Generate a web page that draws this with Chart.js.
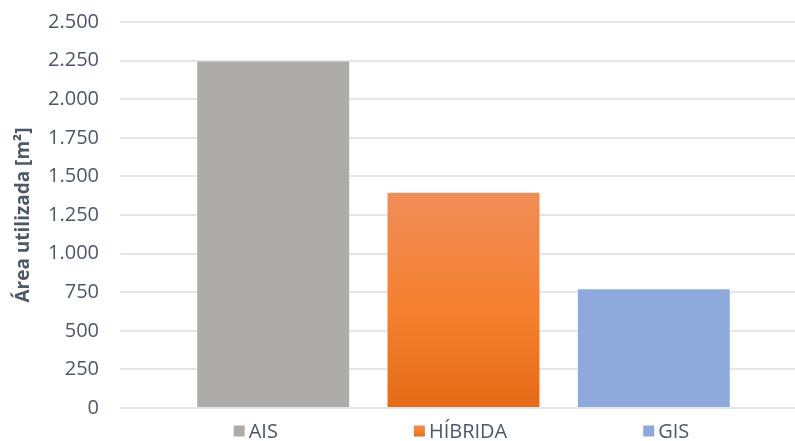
<!DOCTYPE html>
<html>
<head>
<meta charset="utf-8">
<script src="https://cdn.jsdelivr.net/npm/chart.js@4.4.1/dist/chart.umd.min.js"></script>
<style>
  html, body { margin: 0; padding: 0; background: #fff; overflow: hidden; }
  #wrap { width: 795px; height: 441px; overflow: hidden; }
</style>
</head>
<body>
<div id="wrap"><canvas id="areaChart" width="812" height="441"></canvas></div>
<script>
// ── Data ─────────────────────────────────────────────────────────────────────
const systems = ['AIS', 'HÍBRIDA', 'GIS']
const areaUsed = [2250, 1400, 775]
const yMin = 0
const yMax = 2500
const yStep = 250
const yTitle = 'Área utilizada [m²]'

// ── Styles ───────────────────────────────────────────────────────────────────
const FONT = "'Open Sans', 'Noto Sans', sans-serif"
const TEXT = '#4d5868'
const GRID = '#e1e5ec'
const GRAY = '#aeabab'
const BLUE = '#8eaadc'
const ORANGE_STOPS = ['#f08d58', '#f5802f', '#e56b16']

function fmt(n) {
  return String(n).replace(/\B(?=(\d{3})+(?!\d))/g, '.')
}

function orangeGradient(ctx, top, bottom) {
  const g = ctx.createLinearGradient(0, top, 0, bottom)
  g.addColorStop(0, ORANGE_STOPS[0])
  g.addColorStop(0.55, ORANGE_STOPS[1])
  g.addColorStop(1, ORANGE_STOPS[2])
  return g
}

// gradient runs from the top of the bar down to the baseline
function hybridFill(context) {
  const { chart } = context
  if (!chart.chartArea || !context.parsed) return ORANGE_STOPS[1]
  const top = chart.scales.y.getPixelForValue(context.parsed.y)
  const bottom = chart.scales.y.getPixelForValue(0)
  return orangeGradient(chart.ctx, top, bottom)
}

const fills = [GRAY, hybridFill, BLUE]
const swatches = [GRAY, 'gradient', BLUE]

// ── Legend row under the plot ────────────────────────────────────────────────
const legendRow = {
  id: 'legendRow',
  afterDraw(chart, args, opts) {
    const { ctx, chartArea } = chart
    ctx.save()
    ctx.font = `${opts.size}px ${FONT}`
    ctx.textBaseline = 'middle'
    const items = chart.data.datasets.map((ds, i) => {
      const tw = ctx.measureText(ds.label).width
      return { text: ds.label, swatch: swatches[i], width: opts.box + opts.gap + tw }
    })
    const total = items.reduce((s, it) => s + it.width, 0) + opts.spacing * (items.length - 1)
    let x = (chartArea.left + chartArea.right) / 2 - total / 2 - 2
    const y = opts.y
    for (const it of items) {
      const by = y - opts.box / 2
      ctx.fillStyle = it.swatch === 'gradient' ? orangeGradient(ctx, by, by + opts.box) : it.swatch
      ctx.fillRect(x, by, opts.box, opts.box)
      ctx.fillStyle = TEXT
      ctx.fillText(it.text, x + opts.box + opts.gap, y + 1)
      x += it.width + opts.spacing
    }
    ctx.restore()
  }
}

// ── Chart ────────────────────────────────────────────────────────────────────
new Chart(document.getElementById('areaChart'), {
  type: 'bar',
  data: {
    labels: [''],
    datasets: systems.map((name, i) => ({
      label: name,
      data: [areaUsed[i]],
      backgroundColor: fills[i],
      borderColor: 'rgba(255,255,255,0.35)',
      borderWidth: 1,
      categoryPercentage: 0.831,
      barPercentage: 0.809
    }))
  },
  options: {
    responsive: false,
    animation: false,
    layout: { padding: { top: 22, right: 5, bottom: 33, left: 0 } },
    plugins: {
      legend: { display: false },
      tooltip: { enabled: false },
      legendRow: { size: 20, box: 11, gap: 4, spacing: 136, y: 431 }
    },
    scales: {
      x: { display: false },
      y: {
        min: yMin,
        max: yMax,
        border: { display: false },
        grid: { color: GRID, lineWidth: 2, drawTicks: false },
        ticks: {
          stepSize: yStep,
          padding: 21,
          color: TEXT,
          font: { family: FONT, size: 20 },
          callback: v => fmt(v)
        },
        title: {
          display: true,
          text: yTitle,
          color: TEXT,
          padding: { top: 12, bottom: 0 },
          font: { family: FONT, size: 19, weight: 'bold' }
        },
        afterFit(scale) {
          scale.width = 120
          scale.paddingTop = 0
          scale.paddingBottom = 0
        }
      }
    }
  },
  plugins: [legendRow]
})
</script>
</body>
</html>
